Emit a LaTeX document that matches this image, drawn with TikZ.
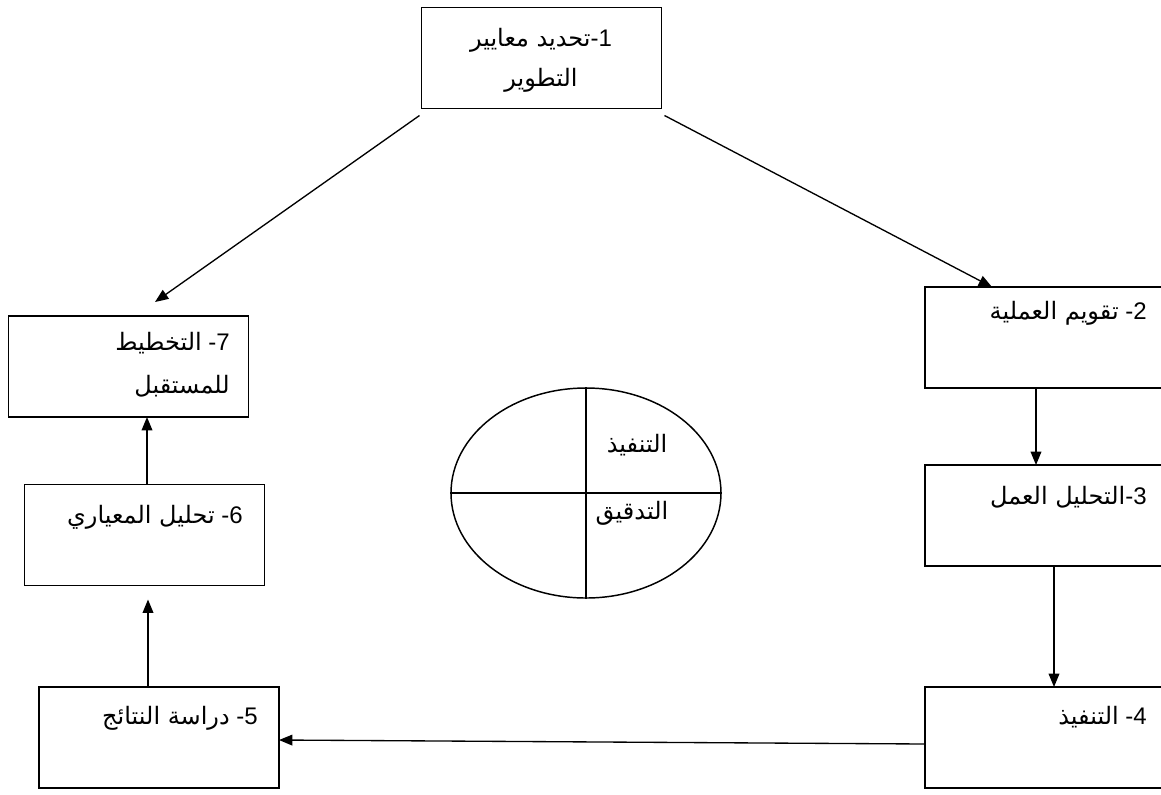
\documentclass[tikz,border=0pt]{standalone}
\usepackage{fontspec}
\setmainfont{Liberation Sans}
\newfontfamily\arabicfont[Script=Arabic]{DejaVu Sans}
\TeXXeTstate=1
\usetikzlibrary{arrows.meta, shapes.geometric}
\newcommand{\ar}[1]{{\arabicfont\beginR #1\endR}}

\begin{document}
\begin{tikzpicture}[x=0.75pt, y=-0.75pt,
			>={Triangle[length=10pt,width=8pt]},   % filled arrow tips
			font=\fontsize{18}{22}\selectfont,
			box/.style={draw, line width=1.1pt, minimum width=180pt, minimum height=75.75pt, inner sep=0pt, outer sep=0pt},
			lbl/.style={inner sep=0pt, anchor=east},
			conn/.style={->, line width=1pt}]
			\useasboundingbox (0,0) rectangle (1161,794);
			\clip (0,0) rectangle (1161,794);
			% boxes
			\node[box] (b1) at (541.5,58) {};
			\node[box] (b2) at (1045,337.5) {};
			\node[box] (b3) at (1045,515.5) {};
			\node[box] (b4) at (1045,737.5) {};
			\node[box] (b5) at (159,737.5) {};
			\node[box] (b6) at (144.5,535) {};
			\node[box] (b7) at (128.5,366.5) {};
			% texts
			\node[inner sep=0pt] (t1a) at (541,40) {\ar{تحديد معايير}-1};
			\node[inner sep=0pt] (t1b) at (541,80) {\ar{التطوير}};
			\node[lbl] (t2) at (1147,313) {\ar{تقويم العملية} -2};
			\node[lbl] (t3) at (1147,497) {\ar{التحليل العمل}-3};
			\node[lbl] (t4) at (1147,717) {\ar{التنفيذ} -4};
			\node[lbl] (t5) at (258,718) {\ar{دراسة النتائج} -5};
			\node[lbl] (t6) at (243,517) {\ar{تحليل المعياري} -6};
			\node[lbl] (t7a) at (230,343) {\ar{التخطيط} -7};
			\node[lbl] (t7b) at (230,386) {\ar{للمستقبل}};
			% center ellipse
			\node[draw, ellipse, line width=1.1pt, minimum width=202.5pt, minimum height=157.5pt, inner sep=0pt] (ell) at (586,493) {};
			\draw[line width=1.1pt] (ell.north) -- (ell.south);
			\draw[line width=1.1pt] (ell.west) -- (ell.east);
			\node[inner sep=0pt] (e1) at (637,445) {\ar{التنفيذ}};
			\node[inner sep=0pt] (e2) at (632,513) {\ar{التدقيق}};
			% arrows
			\draw[conn] ([shift={(-2,7)}]b1.south west) -- ([shift={(26.5,-14)}]b7.north);
			\draw[conn] ([shift={(3,7)}]b1.south east) -- ([shift={(-53,0)}]b2.north);
			\draw[conn] ([shift={(-9,0)}]b2.south) -- ([shift={(-9,0)}]b3.north);
			\draw[conn] ([shift={(9,0)}]b3.south) -- ([shift={(9,0)}]b4.north);
			\draw[conn] ([shift={(0,6.5)}]b4.west) -- ([shift={(0,2.5)}]b5.east);
			\draw[conn] ([shift={(-11,0)}]b5.north) -- ([shift={(3.5,14)}]b6.south);
			\draw[conn] ([shift={(2.5,0)}]b6.north) -- ([shift={(18.5,0)}]b7.south);
		\end{tikzpicture}
\end{document}
